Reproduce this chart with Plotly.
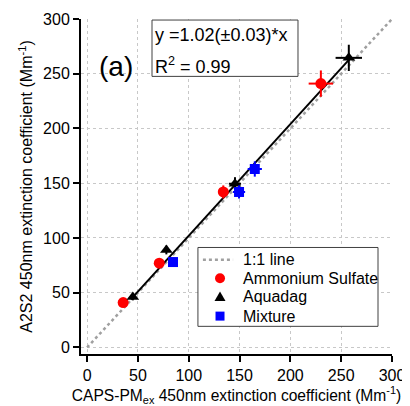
import plotly.graph_objects as go

# Ammonium Sulfate
as_x = [35.5, 71, 134, 230]
as_y = [41, 77, 142, 241]
as_ex = [3, 3, 5, 12]
as_ey = [3, 3, 6, 12]
# Aquadag
aq_x = [45, 78, 145.5, 257.5]
aq_y = [46, 89, 149.5, 264.5]
aq_ex = [3, 3, 6, 13]
aq_ey = [3, 4, 6, 12]
# Mixture
mx_x = [84.5, 149.5, 165]
mx_y = [78, 142, 163]
mx_ex = [3, 6, 7]
mx_ey = [3, 6, 7]

slope = 1.02
fit_x = [43, 258]
one_x = [0, 300]
tick_vals = [0, 50, 100, 150, 200, 250, 300]
legend_names = ["1:1 line", "Ammonium Sulfate", "Aquadag", "Mixture"]
colors = {"AS": "#ff0000", "AQ": "black", "MX": "#0000ff"}

fig = go.Figure()
fig.add_trace(go.Scatter(x=one_x, y=one_x, mode="lines", name=legend_names[0],
                         line=dict(color="#a0a0a0", width=2.5, dash="dot")))
fig.add_trace(go.Scatter(x=fit_x, y=[slope * v for v in fit_x], mode="lines",
                         name="fit", line=dict(color="black", width=2)))

def pts(x, y, ex, ey, name, color, symbol, size):
    fig.add_trace(go.Scatter(
        x=x, y=y, mode="markers", name=name,
        marker=dict(color=color, symbol=symbol, size=size),
        error_x=dict(type="data", array=ex, color=color, thickness=2, width=0),
        error_y=dict(type="data", array=ey, color=color, thickness=2, width=0)))

pts(as_x, as_y, as_ex, as_ey, legend_names[1], colors["AS"], "circle", 11)
pts(aq_x, aq_y, aq_ex, aq_ey, legend_names[2], colors["AQ"], "triangle-up", 11)
pts(mx_x, mx_y, mx_ex, mx_ey, legend_names[3], colors["MX"], "square", 10)

axis_common = dict(
    showline=True, linecolor="black", linewidth=2,
    ticks="outside", ticklen=6, tickwidth=2, tickcolor="black",
    showgrid=True, gridcolor="#c8c8c8", griddash="dot", gridwidth=1,
    zeroline=False, tickfont=dict(size=16, color="black"),
    tickvals=tick_vals, automargin=False,
)

# ---- manual legend (compact rows as in the original) ----
shapes = [
    dict(type="rect", xref="paper", yref="paper", x0=0.376, x1=0.955,
         y0=0.0826, y1=0.318, line=dict(color="#404040", width=1),
         fillcolor="white", layer="above"),
    dict(type="line", xref="paper", yref="paper", x0=0.392, x1=0.489,
         y0=0.281, y1=0.281, line=dict(color="#a0a0a0", width=2.5, dash="dot"),
         layer="above"),
    dict(type="circle", xref="paper", yref="paper", xsizemode="pixel",
         ysizemode="pixel", xanchor=0.447, yanchor=0.2263, x0=-5, x1=5,
         y0=-5, y1=5, fillcolor=colors["AS"], line=dict(width=0), layer="above"),
    dict(type="path", xref="paper", yref="paper", xsizemode="pixel",
         ysizemode="pixel", xanchor=0.447, yanchor=0.1713,
         path="M -5.5 -4.5 L 5.5 -4.5 L 0 5 Z",
         fillcolor=colors["AQ"], line=dict(width=0), layer="above"),
    dict(type="rect", xref="paper", yref="paper", xsizemode="pixel",
         ysizemode="pixel", xanchor=0.447, yanchor=0.1131, x0=-4.5, x1=4.5,
         y0=-4.5, y1=4.5, fillcolor=colors["MX"], line=dict(width=0), layer="above"),
    # equation box
    dict(type="rect", xref="paper", yref="paper", x0=0.2283, x1=0.6977,
         y0=0.8287, y1=0.9969, line=dict(color="#404040", width=1),
         fillcolor="white", layer="above"),
]

legend_y = [0.281, 0.2263, 0.1713, 0.1131]
annotations = [
    dict(text=name, x=0.5145, y=yy, xref="paper", yref="paper",
         xanchor="left", yanchor="middle", showarrow=False,
         font=dict(size=16))
    for name, yy in zip(legend_names, legend_y)
]
annotations += [
    dict(text="(a)", x=0.0514, y=0.859, xref="paper", yref="paper",
         xanchor="left", yanchor="middle", showarrow=False,
         font=dict(size=28)),
    dict(text="y =1.02(±0.03)*x", x=0.2315, y=0.951, xref="paper",
         yref="paper", xanchor="left", yanchor="middle", showarrow=False,
         font=dict(size=18)),
    dict(text="R<sup>2</sup> = 0.99", x=0.2315, y=0.862, xref="paper",
         yref="paper", xanchor="left", yanchor="middle", showarrow=False,
         font=dict(size=18)),
]

fig.update_layout(
    width=402, height=398,
    margin=dict(l=73, r=18, t=11, b=52),
    paper_bgcolor="white", plot_bgcolor="white",
    font=dict(family="Liberation Sans, Arial, sans-serif", color="black"),
    xaxis=dict(range=[-6, 300], title=dict(
        text="CAPS-PM<sub>ex</sub> 450nm extinction coefficient (Mm<sup>-1</sup>)",
        font=dict(size=15.6), standoff=7), **axis_common),
    yaxis=dict(range=[-6, 300], title=dict(
        text="A2S2 450nm extinction coefficient (Mm<sup>-1</sup>)",
        font=dict(size=16), standoff=6), **axis_common),
    showlegend=False,
    shapes=shapes,
    annotations=annotations,
)

fig.write_html("out.html")
